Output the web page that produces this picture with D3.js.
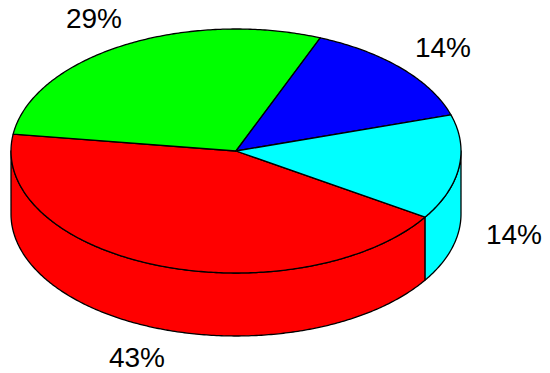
<!DOCTYPE html>
<html><head><meta charset="utf-8">
<script src="https://cdnjs.cloudflare.com/ajax/libs/d3/7.8.5/d3.min.js"></script>
<style>html,body{margin:0;padding:0;background:#fff}svg{display:block}</style>
</head><body><svg id="c" width="550" height="373"></svg>
<script>
const sliceNames = ["red","green","blue","cyan"];
const sliceValues = [43.1,28.9,14.1,13.9];
const sliceColors = ["#ff0000","#00ff00","#0000ff","#00ffff"];
const sliceLabels = ["43%","29%","14%","14%"];
const labelAnchors = [[137,366.5],[94,28],[443,57],[514,243.5]];

const cx=236, cy=151, rx=225, ry=122, depth=63;
const rot=32.8*Math.PI/180;
const svg=d3.select("#c");
const arcs=d3.pie().sort(null).value(d=>d)(sliceValues);
const line=d3.line().x(d=>d[0]).y(d=>d[1]);
const pt=(t,dy=0)=>[cx+rx*Math.cos(t),cy+dy+ry*Math.sin(t)];
const samples=(a,b,dy=0)=>{const n=Math.max(2,Math.ceil(Math.abs(b-a)*90));
  return d3.range(n+1).map(i=>pt(a+(b-a)*i/n,dy));};
const style=s=>s.attr("stroke","#000").attr("stroke-width",1.3).attr("stroke-linejoin","round");

// side walls: only the front half of the rim (0..PI, plus a full turn) is visible
arcs.forEach((d,i)=>{
  [0,2*Math.PI].forEach(off=>{
    const a=Math.max(d.startAngle+rot,off), b=Math.min(d.endAngle+rot,off+Math.PI);
    if(b<=a) return;
    const top=samples(a,b), bot=samples(b,a,depth);
    style(svg.append("path").attr("d",line(top.concat(bot))+"Z").attr("fill",sliceColors[i]));
  });
});
// top faces
arcs.forEach((d,i)=>{
  const pts=[[cx,cy]].concat(samples(d.startAngle+rot,d.endAngle+rot));
  style(svg.append("path").attr("d",line(pts)+"Z").attr("fill",sliceColors[i]));
});
svg.selectAll("text.l").data(sliceLabels).join("text").attr("class","l")
  .attr("x",(d,i)=>labelAnchors[i][0]).attr("y",(d,i)=>labelAnchors[i][1])
  .attr("text-anchor","middle").attr("font-family","'Liberation Sans',Arial,sans-serif")
  .attr("font-size",28).attr("fill","#000").text(d=>d);
</script></body></html>
